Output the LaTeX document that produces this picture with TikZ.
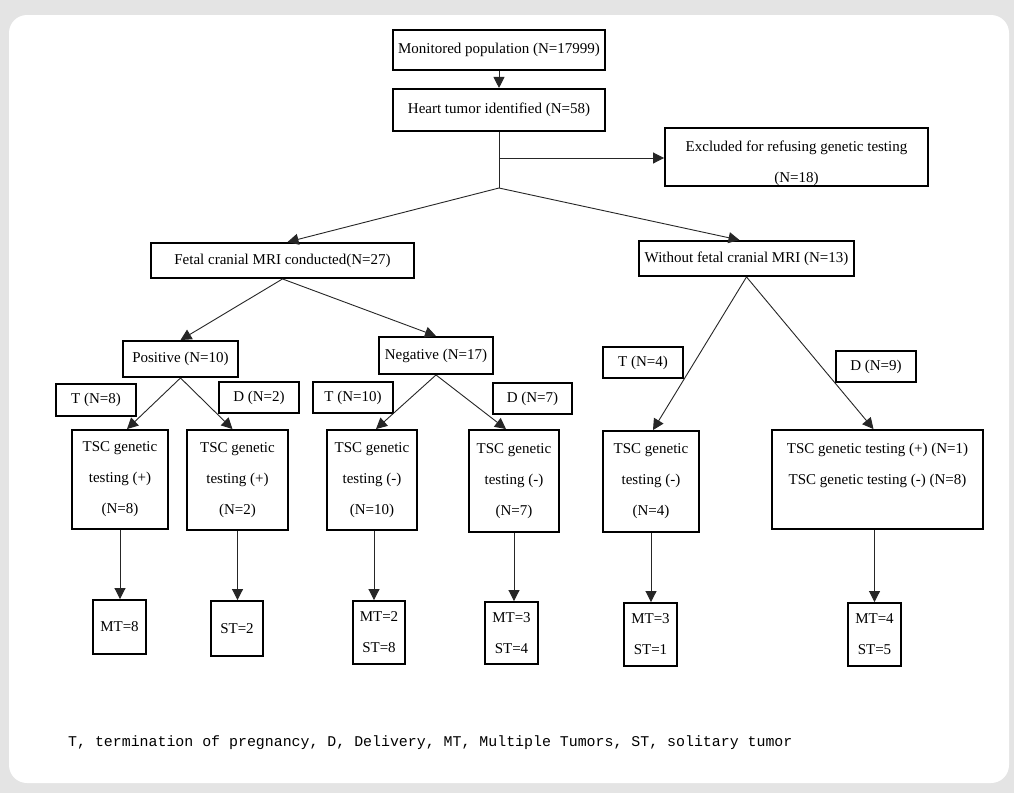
\documentclass[tikz,border=0pt]{standalone}
\usepackage{fontspec}
\setmainfont{Liberation Serif}
\setmonofont{Liberation Mono}
\usepackage{tikz}
\usetikzlibrary{arrows.meta,positioning}
\definecolor{cardgray}{HTML}{E4E4E4}

\begin{document}
\begin{tikzpicture}[x=1pt, y=-1pt,
  box/.style={draw, line width=1.9pt, font=\fontsize{15}{31}\selectfont, align=center, inner sep=0pt},
  arrow/.style={-{Triangle[length=11pt,width=11pt]}, line width=0.9pt, draw=black!85},
  link/.style={line width=0.9pt, draw=black!85}
]
\useasboundingbox (0,0) rectangle (1014,793);
\fill[cardgray] (0,0) rectangle (1014,793);
\fill[white, rounded corners=18pt] (9,15) rectangle (1009,783);

\node[box, minimum width=212pt, minimum height=40pt] (monitored) at (499,50) {Monitored population (N=17999)};
\node[box, minimum width=212pt, minimum height=42pt, below=17pt of monitored] (tumor) {Heart tumor identified (N=58)};
\node[box, minimum width=263pt, minimum height=56pt] (excluded) at (796.5,157) {\rule{0pt}{24pt}Excluded for refusing genetic testing\\(N=18)};
\node[box, minimum width=263pt, minimum height=35pt] (mri) at (282.5,260.5) {Fetal cranial MRI conducted(N=27)};
\node[box, minimum width=215pt, minimum height=35pt] (nomri) at (746.5,258.5) {Without fetal cranial MRI (N=13)};

\node[box, minimum width=115pt, minimum height=36pt] (pos) at (180.5,359) {Positive (N=10)};
\node[box, minimum width=114pt, minimum height=37pt] (neg) at (436,355.5) {Negative (N=17)};

\node[box, minimum width=80pt, minimum height=32pt] (tpos) at (96,400) {T (N=8)};
\node[box, minimum width=80pt, minimum height=31pt] (dpos) at (259,397.5) {D (N=2)};
\node[box, minimum width=80pt, minimum height=31pt] (tneg) at (353,397.5) {T (N=10)};
\node[box, minimum width=79pt, minimum height=31pt] (dneg) at (532.5,398.5) {D (N=7)};
\node[box, minimum width=80pt, minimum height=31pt] (tno) at (643,362.5) {T (N=4)};
\node[box, minimum width=80pt, minimum height=31pt] (dno) at (876,366.5) {D (N=9)};

\node[box, minimum width=96pt, minimum height=99pt] (gentpos) at (120,479.5) {TSC genetic\\testing (+)\\(N=8)};
\node[box, minimum width=101pt, minimum height=100pt] (gendpos) at (237.5,480) {TSC genetic\\testing (+)\\(N=2)};
\node[box, minimum width=90pt, minimum height=100pt] (gentneg) at (372,480) {TSC genetic\\testing (-)\\(N=10)};
\node[box, minimum width=90pt, minimum height=102pt] (gendneg) at (514,481) {TSC genetic\\testing (-)\\(N=7)};
\node[box, minimum width=96pt, minimum height=101pt] (gentno) at (651,481.5) {TSC genetic\\testing (-)\\(N=4)};
\node[box, minimum width=211pt, minimum height=99pt] (gendno) at (877.5,479.5) {TSC genetic testing (+) (N=1)\\TSC genetic testing (-) (N=8)\\~};

\node[box, minimum width=53pt, minimum height=54pt] (outtpos) at (119.5,627) {MT=8};
\node[box, minimum width=52pt, minimum height=55pt] (outdpos) at (237,628.5) {ST=2};
\node[box, minimum width=52pt, minimum height=63pt] (outtneg) at (379,632.5) {MT=2\\ST=8};
\node[box, minimum width=53pt, minimum height=62pt] (outdneg) at (511.5,633) {MT=3\\ST=4};
\node[box, minimum width=53pt, minimum height=63pt] (outtno) at (650.5,634.5) {MT=3\\ST=1};
\node[box, minimum width=53pt, minimum height=63pt] (outdno) at (874.5,634.5) {MT=4\\ST=5};

\coordinate (branch) at (499,158);
\coordinate (split) at (499,188);

\draw[arrow] (monitored) -- (tumor);
\draw[link] (tumor.south) -- (split);
\draw[arrow] (branch) -- (excluded.west |- branch);
\draw[arrow] (split) -- ([xshift=5pt]mri.north);
\draw[arrow] (split) -- ([xshift=-7pt]nomri.north);
\draw[arrow] (mri.south) -- (pos.north);
\draw[arrow] (mri.south) -- (neg.north);
\draw[arrow] (pos.south) -- ([xshift=7pt]gentpos.north);
\draw[arrow] (pos.south) -- ([xshift=-5pt]gendpos.north);
\draw[arrow] (neg.south) -- ([xshift=4pt]gentneg.north);
\draw[arrow] (neg.south) -- ([xshift=-8pt]gendneg.north);
\draw[arrow] (nomri.south) -- ([xshift=2pt]gentno.north);
\draw[arrow] (nomri.south) -- ([xshift=-4pt]gendno.north);
\draw[arrow] (gentpos.south) -- (gentpos.south |- outtpos.north);
\draw[arrow] (gendpos.south) -- (gendpos.south |- outdpos.north);
\draw[arrow] ([xshift=2pt]gentneg.south) -- ([xshift=2pt]gentneg.south |- outtneg.north);
\draw[arrow] (gendneg.south) -- (gendneg.south |- outdneg.north);
\draw[arrow] (gentno.south) -- (gentno.south |- outtno.north);
\draw[arrow] ([xshift=-3pt]gendno.south) -- ([xshift=-3pt]gendno.south |- outdno.north);

\node[anchor=west, font=\ttfamily\fontsize{14.9}{17}\selectfont, inner sep=0pt] (legend) at (68,743) {T, termination of pregnancy, D, Delivery, MT, Multiple Tumors, ST, solitary tumor};
\end{tikzpicture}
\end{document}
